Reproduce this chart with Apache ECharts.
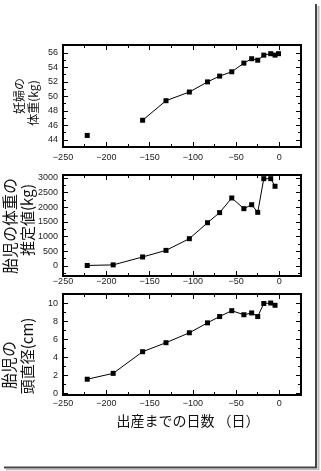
<!DOCTYPE html>
<html>
<head>
<meta charset="utf-8">
<script src="https://cdn.jsdelivr.net/npm/echarts@6/dist/echarts.min.js"></script>
<style>
  html, body { margin: 0; padding: 0; background: #fff; }
  #main { width: 321px; height: 471px; }
</style>
</head>
<body>
<div id="main"></div>
<script>
// 出産までの日数（共通）
const days = [-222, -192, -158, -131, -104, -83, -69, -55, -41, -32, -25, -18, -10, -5, -1];
// 妊婦の体重 (kg)
const motherWeight = [44.6, null, 46.7, 49.4, 50.6, 52.0, 52.8, 53.4, 54.6, 55.2, 55.0, 55.7, 55.9, 55.7, 55.9];
// 胎児の体重の推定値 (g)
const fetalWeight = [10, 30, 300, 525, 925, 1470, 1815, 2315, 1950, 2085, 1825, 2975, 2975, 2715, null];
// 胎児の頭直径 (cm)
const headDiameter = [1.55, 2.2, 4.6, 5.6, 6.7, 7.8, 8.5, 9.15, 8.7, 8.9, 8.5, 9.95, 10.0, 9.75, null];

// 目盛り
const xTicks = [-250, -200, -150, -100, -50, 0];
const xMinor = [-225, -175, -125, -75, -25, 25];
const y1Ticks = [44, 46, 48, 50, 52, 54, 56];
const y1Minor = [43, 45, 47, 49, 51, 53, 55, 57];
const y2Ticks = [0, 500, 1000, 1500, 2000, 2500, 3000];
const y2Minor = [-250, 250, 750, 1250, 1750, 2250, 2750];
const y3Ticks = [0, 2, 4, 6, 8, 10];
const y3Minor = [1, 3, 5, 7, 9, 11];

const labelFont = 'Liberation Sans, Arial, sans-serif';
const jpFont = 'Noto Sans CJK JP, sans-serif';

const panels = [
  { top: 45, height: 102, min: 43, max: 57.1, ticks: y1Ticks, minor: y1Minor, values: motherWeight, xMargin: 6 },
  { top: 175, height: 101, min: -350, max: 3100, ticks: y2Ticks, minor: y2Minor, values: fetalWeight, xMargin: 1 },
  { top: 294, height: 101, min: -0.2, max: 11, ticks: y3Ticks, minor: y3Minor, values: headDiameter, xMargin: 4 }
];

function fmt(v) {
  return String(v).replace('-', '\u2212');
}

// 枠の内側に向いた目盛り用の軸
function makeAxis(i, pos, min, max, tickVals, len, labelVals, margin) {
  return {
    type: 'value',
    gridIndex: i,
    position: pos,
    min: min,
    max: max,
    axisLine: { show: false, onZero: false },
    splitLine: { show: false },
    axisTick: {
      show: true, inside: true, length: len, customValues: tickVals,
      lineStyle: { color: '#000', width: 1 }
    },
    axisLabel: labelVals ? {
      show: true, customValues: labelVals, margin: margin,
      fontSize: 9, fontFamily: labelFont, color: '#222',
      formatter: fmt
    } : { show: false }
  };
}

let grids = [];
let xAxes = [];
let yAxes = [];
let series = [];

panels.forEach((p, i) => {
  grids.push({
    left: 63, top: p.top, width: 238, height: p.height,
    show: true, borderColor: '#000', borderWidth: 2, backgroundColor: 'transparent'
  });
  let xi = xAxes.length;
  let yi = yAxes.length;
  xAxes.push(makeAxis(i, 'bottom', -250, 25, xTicks, 5, xTicks, p.xMargin));
  xAxes.push(makeAxis(i, 'bottom', -250, 25, xMinor, 3));
  xAxes.push(makeAxis(i, 'top', -250, 25, xTicks, 5));
  xAxes.push(makeAxis(i, 'top', -250, 25, xMinor, 3));
  yAxes.push(makeAxis(i, 'left', p.min, p.max, p.ticks, 5, p.ticks, 5));
  yAxes.push(makeAxis(i, 'left', p.min, p.max, p.minor, 3));
  yAxes.push(makeAxis(i, 'right', p.min, p.max, p.ticks, 5));
  yAxes.push(makeAxis(i, 'right', p.min, p.max, p.minor, 3));

  series.push({
    type: 'line',
    xAxisIndex: xi,
    yAxisIndex: yi,
    data: days.map((d, k) => [d, p.values[k] == null ? '-' : p.values[k]]),
    connectNulls: false,
    symbol: 'rect',
    symbolSize: 5,
    itemStyle: { color: '#000' },
    lineStyle: { color: '#000', width: 1 },
    z: 5
  });
});

function vtext(x, y, text, size) {
  return {
    type: 'text', x: x, y: y, rotation: Math.PI / 2,
    style: {
      text: text, fontSize: size, fontFamily: jpFont, fill: '#111',
      align: 'center', verticalAlign: 'middle'
    }
  };
}

let chart = echarts.init(document.getElementById('main'), null, { renderer: 'canvas' });
chart.setOption({
  animation: false,
  backgroundColor: '#fff',
  grid: grids,
  xAxis: xAxes,
  yAxis: yAxes,
  series: series,
  graphic: [
    vtext(19, 96, '妊婦の', 12),
    vtext(33, 103, '体重(kg)', 12),
    vtext(10, 226, '胎児の体重の', 16),
    vtext(27.5, 220, '推定値(kg)', 15),
    vtext(9, 365, '胎児の', 16),
    vtext(27.5, 356, '頭直径(cm)', 15),
    {
      type: 'text', x: 188, y: 421,
      style: {
        text: '出産までの日数 （日）', fontSize: 14, fontFamily: jpFont, fill: '#111',
        align: 'center', verticalAlign: 'middle'
      }
    },
    // 画像の枠と影
    { type: 'line', shape: { x1: 316, y1: 4, x2: 316, y2: 468 }, style: { stroke: '#444', lineWidth: 2 } },
    { type: 'line', shape: { x1: 318.5, y1: 6, x2: 318.5, y2: 470 }, style: { stroke: '#bbb', lineWidth: 2 } },
    { type: 'line', shape: { x1: 4, y1: 467.5, x2: 317, y2: 467.5 }, style: { stroke: '#444', lineWidth: 2 } },
    { type: 'line', shape: { x1: 6, y1: 469.5, x2: 319, y2: 469.5 }, style: { stroke: '#bbb', lineWidth: 1.5 } }
  ]
});
</script>
</body>
</html>
